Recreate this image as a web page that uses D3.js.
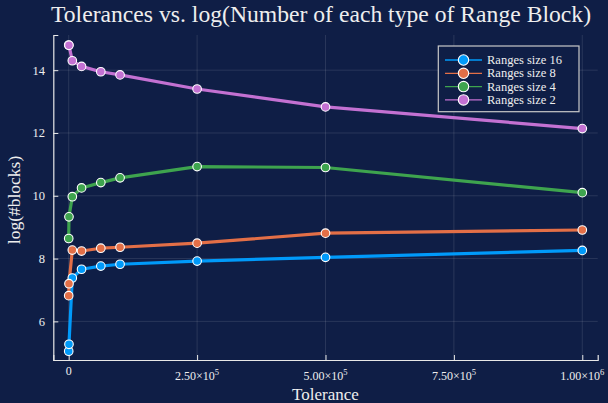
<!DOCTYPE html>
<html><head><meta charset="utf-8">
<script src="https://cdn.jsdelivr.net/npm/d3@7"></script>
<style>
html,body{margin:0;padding:0;background:#0f1e46;}
svg{display:block;}
text{font-family:"Liberation Serif","DejaVu Serif",serif;fill:#eeeeee;}
</style></head>
<body><svg id="c" width="608" height="403"></svg>
<script>
const tolerances = [0, 500, 7000, 25000, 62500, 100000, 250000, 500000, 1000000];
const size16 = [5.05, 5.27, 7.38, 7.66, 7.76, 7.82, 7.92, 8.04, 8.26];
const size8  = [6.82, 7.20, 8.27, 8.24, 8.33, 8.36, 8.49, 8.81, 8.91];
const size4  = [8.64, 9.33, 9.97, 10.25, 10.42, 10.57, 10.93, 10.90, 10.10];
const size2  = [14.80, 14.79, 14.30, 14.12, 13.95, 13.85, 13.40, 12.83, 12.14];
const seriesNames = ["Ranges size 16", "Ranges size 8", "Ranges size 4", "Ranges size 2"];
const seriesColors = ["#009afa", "#e36f47", "#3ea44e", "#c371d2"];
const xTicks = [0, 250000, 500000, 750000, 1000000];
const xTickMant = ["0", "2.50", "5.00", "7.50", "1.00"];
const xTickExp = ["", "5", "5", "5", "6"];
const yTicks = [6, 8, 10, 12, 14];

const series = [size16, size8, size4, size2];
const svg = d3.select("#c");
const L = 53.3, R = 597.7, T = 35, B = 360;
const x = d3.scaleLinear().domain([-30000, 1030000]).range([L, R]);
const y = d3.scaleLinear().domain([4.77, 15.12]).range([B, T]);

// grid
const g = svg.append("g");
g.selectAll(".vg").data(xTicks).enter().append("line")
  .attr("x1", d => x(d)).attr("x2", d => x(d)).attr("y1", T).attr("y2", B)
  .attr("stroke", "rgba(255,255,255,0.11)").attr("stroke-width", 1);
g.selectAll(".hg").data(yTicks).enter().append("line")
  .attr("x1", L).attr("x2", R).attr("y1", d => y(d)).attr("y2", d => y(d))
  .attr("stroke", "rgba(255,255,255,0.11)").attr("stroke-width", 1);

// axes
const xa = svg.append("g").attr("transform", `translate(0,${B})`)
  .call(d3.axisBottom(x).tickValues(xTicks).tickSize(-5).tickFormat(""));
const ya = svg.append("g").attr("transform", `translate(${L},0)`)
  .call(d3.axisLeft(y).tickValues(yTicks).tickSize(-5).tickFormat(""));
[xa, ya].forEach(a => {
  a.select(".domain").attr("stroke", "#e8e8e8").attr("stroke-width", 1.2);
  a.selectAll(".tick line").attr("stroke", "#e8e8e8").attr("stroke-width", 1);
});

// x tick labels
xTicks.forEach((t, i) => {
  const tx = svg.append("text").attr("x", x(t)).attr("y", i === 0 ? 375 : 380)
    .attr("text-anchor", "middle").attr("font-size", 12);
  if (i === 0) { tx.text(xTickMant[i]); }
  else {
    tx.append("tspan").text(xTickMant[i] + "×10");
    tx.append("tspan").text(xTickExp[i]).attr("font-size", 8.5).attr("dy", -5);
  }
});
// y tick labels
svg.selectAll(".yl").data(yTicks).enter().append("text")
  .attr("x", 45).attr("y", d => y(d) + 4.5).attr("text-anchor", "end")
  .attr("font-size", 12.5).text(d => d);

// lines
const line = d3.line().x((d, i) => x(tolerances[i])).y(d => y(d));
series.forEach((s, k) => {
  svg.append("path").datum(s).attr("d", line).attr("fill", "none")
    .attr("stroke", seriesColors[k]).attr("stroke-width", 3.2).attr("stroke-linejoin", "round");
});
series.forEach((s, k) => {
  svg.selectAll(".m" + k).data(s).enter().append("circle")
    .attr("cx", (d, i) => x(tolerances[i])).attr("cy", d => y(d)).attr("r", 4.3)
    .attr("fill", seriesColors[k]).attr("stroke", "#ffffff").attr("stroke-width", 1.1);
});

// legend
const lg = svg.append("g");
lg.append("rect").attr("x", 438.3).attr("y", 46).attr("width", 140.7).attr("height", 65.7)
  .attr("fill", "#0f1e46").attr("stroke", "#c8c8c8").attr("stroke-width", 1.2);
seriesNames.forEach((n, k) => {
  const ly = 60 + k * 13.3;
  lg.append("line").attr("x1", 445).attr("x2", 482).attr("y1", ly).attr("y2", ly)
    .attr("stroke", seriesColors[k]).attr("stroke-width", 1.3);
  lg.append("circle").attr("cx", 463.5).attr("cy", ly).attr("r", 5.2)
    .attr("fill", seriesColors[k]).attr("stroke", "#ffffff").attr("stroke-width", 1.1);
  lg.append("text").attr("x", 487).attr("y", ly + 4).attr("font-size", 12.5).text(n);
});

// titles
svg.append("text").attr("x", 321).attr("y", 22).attr("text-anchor", "middle")
  .attr("font-size", 22.5).attr("textLength", 540).attr("lengthAdjust", "spacingAndGlyphs")
  .text("Tolerances vs. log(Number of each type of Range Block)");
svg.append("text").attr("x", 325.5).attr("y", 400).attr("text-anchor", "middle")
  .attr("font-size", 17).text("Tolerance");
svg.append("text").attr("transform", "translate(20,200) rotate(-90)").attr("text-anchor", "middle")
  .attr("font-size", 17.5).text("log(#blocks)");
</script></body></html>
